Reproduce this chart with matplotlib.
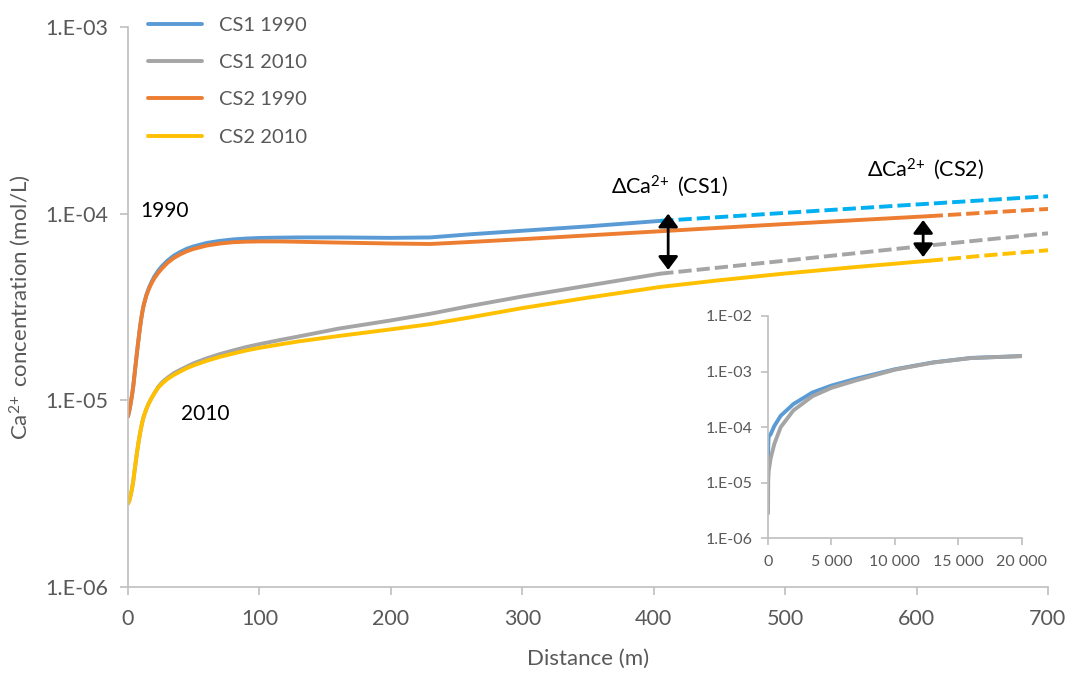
import numpy as np
import matplotlib
matplotlib.use("Agg")
import matplotlib.pyplot as plt
from matplotlib.ticker import FixedLocator, FuncFormatter, NullLocator

plt.rcParams['font.family'] = ['Lato', 'DejaVu Sans']
plt.rcParams['mathtext.fontset'] = 'custom'
plt.rcParams['mathtext.rm'] = 'Lato'
plt.rcParams['mathtext.it'] = 'Lato:italic'
plt.rcParams['mathtext.bf'] = 'Lato:bold'

# ---- main profiles: distance (m) and Ca2+ concentration (mol/L) ----
dist_cs1 = [0, 1, 2, 3, 4, 5, 6, 7, 8, 9, 10, 11, 12, 14, 16, 18, 20, 23, 26,
            30, 35, 40, 45, 50, 60, 70, 80, 90, 100, 115, 130, 160, 200, 230,
            260, 300, 350, 405]

cs1_1990 = [8.2e-6, 8.8e-6, 9.6e-6, 1.06e-5, 1.19e-5, 1.38e-5, 1.6e-5, 1.85e-5,
            2.12e-5, 2.42e-5, 2.72e-5, 3.0e-5, 3.25e-5, 3.67e-5, 4.02e-5, 4.32e-5,
            4.6e-5, 4.95e-5, 5.25e-5, 5.6e-5, 5.97e-5, 6.25e-5, 6.5e-5, 6.68e-5,
            6.97e-5, 7.15e-5, 7.28e-5, 7.36e-5, 7.41e-5, 7.44e-5, 7.46e-5, 7.46e-5,
            7.42e-5, 7.46e-5, 7.75e-5, 8.1e-5, 8.55e-5, 9.15e-5]
cs1_2010 = [2.8e-6, 2.9e-6, 3.1e-6, 3.35e-6, 3.7e-6, 4.2e-6, 4.75e-6, 5.35e-6,
            5.95e-6, 6.55e-6, 7.15e-6, 7.7e-6, 8.2e-6, 9.0e-6, 9.7e-6, 1.03e-5,
            1.09e-5, 1.18e-5, 1.25e-5, 1.32e-5, 1.4e-5, 1.46e-5, 1.52e-5, 1.58e-5,
            1.68e-5, 1.77e-5, 1.85e-5, 1.93e-5, 2.0e-5, 2.1e-5, 2.2e-5, 2.42e-5,
            2.68e-5, 2.91e-5, 3.2e-5, 3.6e-5, 4.12e-5, 4.77e-5]

dist_cs2 = [0, 1, 2, 3, 4, 5, 6, 7, 8, 9, 10, 11, 12, 14, 16, 18, 20, 23, 26,
            30, 35, 40, 45, 50, 60, 70, 80, 90, 100, 115, 130, 160, 200, 230,
            260, 300, 350, 405, 450, 500, 550, 610]
cs2_1990 = [8.2e-6, 8.8e-6, 9.6e-6, 1.06e-5, 1.19e-5, 1.38e-5, 1.6e-5, 1.85e-5,
            2.12e-5, 2.42e-5, 2.72e-5, 3.0e-5, 3.25e-5, 3.65e-5, 3.97e-5, 4.25e-5,
            4.5e-5, 4.82e-5, 5.1e-5, 5.45e-5, 5.8e-5, 6.07e-5, 6.3e-5, 6.48e-5,
            6.75e-5, 6.92e-5, 7.03e-5, 7.08e-5, 7.1e-5, 7.1e-5, 7.07e-5, 7.0e-5,
            6.92e-5, 6.88e-5, 7.05e-5, 7.3e-5, 7.65e-5, 8.05e-5, 8.4e-5, 8.8e-5,
            9.2e-5, 9.7e-5]
cs2_2010 = [2.8e-6, 2.9e-6, 3.1e-6, 3.35e-6, 3.7e-6, 4.2e-6, 4.75e-6, 5.35e-6,
            5.95e-6, 6.55e-6, 7.15e-6, 7.7e-6, 8.2e-6, 9.0e-6, 9.7e-6, 1.03e-5,
            1.09e-5, 1.17e-5, 1.23e-5, 1.3e-5, 1.37e-5, 1.43e-5, 1.49e-5, 1.54e-5,
            1.63e-5, 1.71e-5, 1.78e-5, 1.85e-5, 1.91e-5, 1.99e-5, 2.07e-5, 2.21e-5,
            2.4e-5, 2.56e-5, 2.78e-5, 3.12e-5, 3.55e-5, 4.05e-5, 4.4e-5, 4.78e-5,
            5.15e-5, 5.6e-5]

# ---- projections (dashed) ----
proj_cs1_dist = [405, 500, 600, 700]
proj_cs1_1990 = [9.15e-5, 1.01e-4, 1.12e-4, 1.24e-4]
proj_cs1_2010 = [4.77e-5, 5.6e-5, 6.65e-5, 7.85e-5]
proj_cs2_dist = [610, 650, 700]
proj_cs2_1990 = [9.7e-5, 1.01e-4, 1.06e-4]
proj_cs2_2010 = [5.6e-5, 5.95e-5, 6.37e-5]

# ---- long-range profile for the inset ----
inset_dist = [0, 20, 50, 200, 500, 1000, 2000, 3500, 5000, 7000, 10000,
              13000, 16000, 20000]
inset_cs1_1990 = [8.2e-6, 4.6e-5, 6.7e-5, 7.4e-5, 1.05e-4, 1.6e-4, 2.6e-4,
                  4.2e-4, 5.6e-4, 7.5e-4, 1.1e-3, 1.46e-3, 1.76e-3, 1.9e-3]
inset_cs1_2010 = [2.8e-6, 1.12e-5, 1.59e-5, 2.68e-5, 5.0e-5, 1.0e-4, 2.0e-4,
                  3.6e-4, 5.1e-4, 7.0e-4, 1.08e-3, 1.45e-3, 1.75e-3, 1.9e-3]

# ---- annotation values ----
delta_cs1 = (411, 1.0e-4, 5.0e-5)
delta_cs2 = (605, 9.25e-5, 5.85e-5)

y_ticks = [1e-6, 1e-5, 1e-4, 1e-3]
x_ticks = [0, 100, 200, 300, 400, 500, 600, 700]
inset_y_ticks = [1e-6, 1e-5, 1e-4, 1e-3, 1e-2]
inset_x_ticks = [0, 5000, 10000, 15000, 20000]

BLUE = '#5B9BD5'
CYAN = '#00B0F0'
GRAY = '#A5A5A5'
ORANGE = '#ED7D31'
YELLOW = '#FFC000'
TXT = '#595959'
AX = '#BFBFBF'

LW = 2.8
DASH = (3.4, 1.3)

fig = plt.figure(figsize=(10.73, 6.75), dpi=100)
ax = fig.add_axes([128 / 1073, 88 / 675, 920 / 1073, 560 / 675])

l1, = ax.plot(dist_cs1, cs1_1990, color=BLUE, lw=LW, solid_capstyle='round',
              solid_joinstyle='round', label='CS1 1990')
l2, = ax.plot(dist_cs1, cs1_2010, color=GRAY, lw=LW, solid_capstyle='round',
              solid_joinstyle='round', label='CS1 2010')
l3, = ax.plot(dist_cs2, cs2_1990, color=ORANGE, lw=LW, solid_capstyle='round',
              solid_joinstyle='round', label='CS2 1990')
l4, = ax.plot(dist_cs2, cs2_2010, color=YELLOW, lw=LW, solid_capstyle='round',
              solid_joinstyle='round', label='CS2 2010')

ax.plot(proj_cs1_dist, proj_cs1_1990, color=CYAN, lw=LW, ls=(0, DASH))
ax.plot(proj_cs1_dist, proj_cs1_2010, color=GRAY, lw=LW, ls=(0, DASH))
ax.plot(proj_cs2_dist, proj_cs2_1990, color=ORANGE, lw=LW, ls=(0, DASH))
ax.plot(proj_cs2_dist, proj_cs2_2010, color=YELLOW, lw=LW, ls=(0, DASH))

ax.set_yscale('log')
ax.set_ylim(1e-6, 1e-3)
ax.set_xlim(0, 700)

def sci_label(v, _):
    return '1.E-%02d' % int(round(-np.log10(v)))

ax.yaxis.set_major_locator(FixedLocator(y_ticks))
ax.yaxis.set_major_formatter(FuncFormatter(sci_label))
ax.yaxis.set_minor_locator(NullLocator())
ax.xaxis.set_major_locator(FixedLocator(x_ticks))

for s in ['top', 'right']:
    ax.spines[s].set_visible(False)
for s in ['left', 'bottom']:
    ax.spines[s].set_color(AX)
    ax.spines[s].set_linewidth(1.2)
ax.tick_params(axis='both', which='major', colors=AX, labelcolor=TXT,
               length=6, width=1.2, labelsize=15.5)
ax.tick_params(axis='y', pad=8)
ax.tick_params(axis='x', pad=10)

ax.set_xlabel('Distance (m)', fontsize=16, color=TXT, labelpad=14)
ax.set_ylabel('Ca$^{2\\!+}$ concentration (mol/L)', fontsize=16, color=TXT, labelpad=9)

leg = ax.legend(handles=[l1, l2, l3, l4], loc='upper left',
                bbox_to_anchor=(20 / 920, 1.018), frameon=False, fontsize=14.5,
                handlelength=2.7, handletextpad=0.85, labelspacing=1.0,
                borderpad=0, borderaxespad=0)
for t in leg.get_texts():
    t.set_color(TXT)

ax.text(9, 1.03e-4, '1990', fontsize=15, color='black', ha='left', va='center')
ax.text(40, 8.5e-6, '2010', fontsize=15, color='black', ha='left', va='center')

ax.text(412, 1.41e-4, 'ΔCa$^{2\\!+}$ (CS1)', fontsize=15.5, color='black',
        ha='center', va='center')
ax.text(607, 1.74e-4, 'ΔCa$^{2\\!+}$ (CS2)', fontsize=15.5, color='black',
        ha='center', va='center')

for xa, ytop, ybot in (delta_cs1, delta_cs2):
    ax.annotate('', xy=(xa, ybot), xytext=(xa, ytop),
                arrowprops=dict(arrowstyle='<|-|>,head_length=0.4,head_width=0.3',
                                color='black', lw=2.0, mutation_scale=20,
                                shrinkA=0, shrinkB=0))

# ---- inset ----
ins = fig.add_axes([768 / 1073, 136.7 / 675, 253.7 / 1073, 222.3 / 675])
ins.set_facecolor('white')
ins.plot(inset_dist, inset_cs1_1990, color=BLUE, lw=LW, solid_capstyle='round')
ins.plot(inset_dist, inset_cs1_2010, color=GRAY, lw=LW, solid_capstyle='round')
ins.set_yscale('log')
ins.set_ylim(1e-6, 1e-2)
ins.set_xlim(0, 20000)
ins.yaxis.set_major_locator(FixedLocator(inset_y_ticks))
ins.yaxis.set_major_formatter(FuncFormatter(sci_label))
ins.yaxis.set_minor_locator(NullLocator())
ins.xaxis.set_major_locator(FixedLocator(inset_x_ticks))
ins.xaxis.set_major_formatter(FuncFormatter(lambda v, _: f'{int(v):,}'.replace(',', ' ')))
for s in ['top', 'right']:
    ins.spines[s].set_visible(False)
for s in ['left', 'bottom']:
    ins.spines[s].set_color(AX)
    ins.spines[s].set_linewidth(1.2)
ins.tick_params(axis='both', which='major', colors=AX, labelcolor=TXT,
                length=5, width=1.2, labelsize=11.5)
ins.tick_params(axis='y', pad=6)
ins.tick_params(axis='x', pad=7)

fig.savefig('out.png', dpi=100)
